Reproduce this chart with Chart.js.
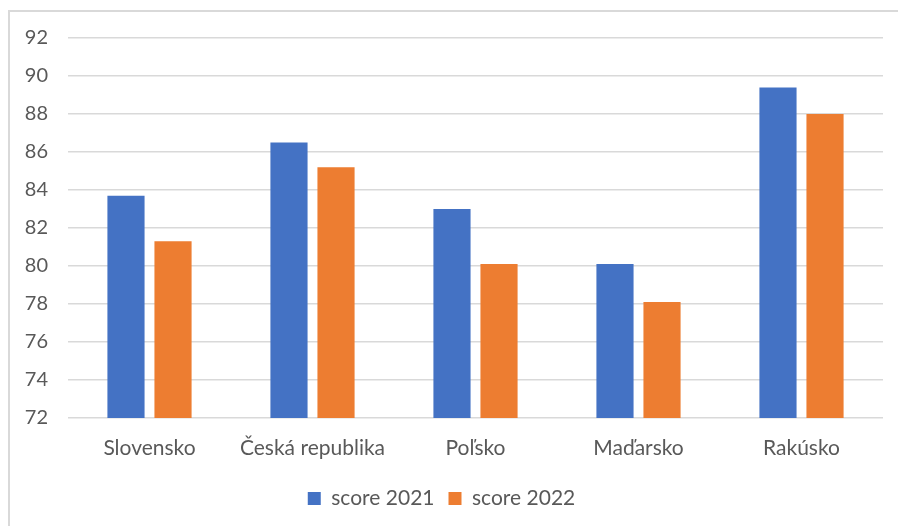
<!DOCTYPE html>
<html>
<head>
<meta charset="utf-8">
<script src="https://cdn.jsdelivr.net/npm/chart.js@4"></script>
<style>
  html, body { margin: 0; padding: 0; background: #fff; }
  #wrap { position: relative; width: 898px; height: 526px; overflow: hidden; }
  #frame { position: absolute; left: 8px; top: 10px; width: 900px; height: 530px;
           border-left: 2px solid #d9d9d9; border-top: 2px solid #d9d9d9; }
  canvas { position: absolute; left: 0; top: 0; }
</style>
</head>
<body>
<div id="wrap">
  <div id="frame"></div>
  <canvas id="graf" width="898" height="526"></canvas>
</div>
<script>
// krajiny a skóre za dva roky
const krajiny = ['Slovensko', 'Česká republika', 'Poľsko', 'Maďarsko', 'Rakúsko'];
const score2021 = [83.7, 86.5, 83.0, 80.1, 89.4];
const score2022 = [81.3, 85.2, 80.1, 78.1, 88.0];
const osY = { min: 72, max: 92, krok: 2 };

const textColor = '#595959';
const gridColor = '#d9d9d9';
const pismo = 'Lato, "Open Sans", sans-serif';

const ctx = document.getElementById('graf');

new Chart(ctx, {
    type: 'bar',
    data: {
        labels: krajiny,
        datasets: [
            {
                label: 'score 2021',
                data: score2021,
                backgroundColor: '#4472C4',
                barPercentage: 0.79,
                categoryPercentage: 0.577
            },
            {
                label: 'score 2022',
                data: score2022,
                backgroundColor: '#ED7D31',
                barPercentage: 0.79,
                categoryPercentage: 0.577
            }
        ]
    },
    options: {
        responsive: false,
        animation: false,
        layout: {
            padding: { top: 38, right: 15, left: 0, bottom: 7 }
        },
        plugins: {
            legend: {
                position: 'bottom',
                labels: {
                    color: textColor,
                    font: { family: pismo, size: 21 },
                    boxWidth: 13,
                    boxHeight: 13,
                    padding: 14
                }
            },
            tooltip: { enabled: false }
        },
        scales: {
            x: {
                grid: { display: false },
                border: { display: false },
                ticks: {
                    color: textColor,
                    font: { family: pismo, size: 21 },
                    padding: 10,
                    maxRotation: 0
                },
                afterFit: function (scale) { scale.height = 56; }
            },
            y: {
                min: osY.min,
                max: osY.max,
                border: { display: false },
                grid: { color: gridColor, lineWidth: 1.5, drawTicks: false },
                ticks: {
                    stepSize: osY.krok,
                    color: textColor,
                    font: { family: pismo, size: 20 },
                    padding: 20
                },
                afterFit: function (scale) { scale.width = 68; }
            }
        }
    }
});
</script>
</body>
</html>
